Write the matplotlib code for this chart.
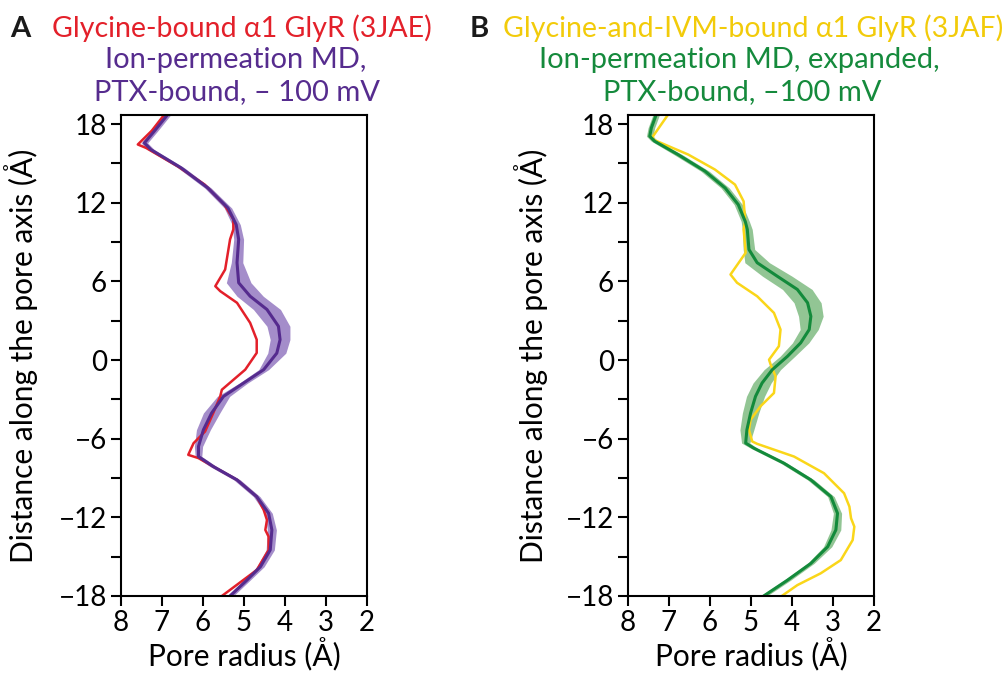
import numpy as np
import matplotlib
matplotlib.use("Agg")
import matplotlib.pyplot as plt
from matplotlib.ticker import MultipleLocator

plt.rcParams['font.family'] = ['Lato', 'DejaVu Sans']

# --- panel A: glycine-bound 3JAE (red) and MD mean +/- sd (purple) ---
a_md_y = [18.74, 17.46, 16.57, 16.06, 14.66, 13.13, 11.60, 10.33, 9.21, 7.43, 5.90, 4.87,
          3.86, 2.58, 1.56, 0.53, -0.73, -1.75, -2.77, -4.04, -5.32, -6.59, -7.36, -8.12,
          -9.14, -10.42, -11.69, -12.96, -14.49, -15.77, -16.79, -18.0]
a_md_r = [6.86, 7.19, 7.43, 7.27, 6.53, 5.88, 5.39, 5.19, 5.13, 5.17, 5.13, 4.85,
          4.44, 4.16, 4.12, 4.20, 4.52, 5.01, 5.50, 5.79, 5.99, 6.11, 6.11, 5.75,
          5.17, 4.69, 4.40, 4.32, 4.36, 4.60, 4.93, 5.34]
a_md_sd = [0.08, 0.08, 0.08, 0.08, 0.08, 0.08, 0.09, 0.10, 0.12, 0.14, 0.30, 0.32,
           0.33, 0.28, 0.24, 0.22, 0.12, 0.10, 0.15, 0.20, 0.17, 0.10, 0.08, 0.08,
           0.08, 0.08, 0.09, 0.11, 0.10, 0.09, 0.08, 0.08]

a_xtal_y = [18.74, 17.5, 16.45, 16.19, 14.79, 13.39, 11.86, 10.74, 9.97, 9.21, 8.44, 6.91,
            5.64, 5.26, 4.37, 2.84, 1.56, 0.55, -0.73, -2.26, -2.77, -4.04, -5.45, -6.34,
            -7.23, -7.48, -8.12, -9.14, -10.42, -11.43, -12.2, -12.96, -13.47, -14.49,
            -16.02, -18.0]
a_xtal_r = [6.94, 7.25, 7.59, 7.39, 6.62, 5.96, 5.48, 5.26, 5.26, 5.34, 5.38, 5.46,
            5.70, 5.58, 5.17, 4.85, 4.69, 4.69, 4.97, 5.54, 5.58, 5.75, 5.95, 6.23,
            6.36, 6.11, 5.75, 5.17, 4.69, 4.52, 4.44, 4.48, 4.40, 4.40,
            4.69, 5.54]

# --- panel B: glycine+IVM-bound 3JAF (yellow) and expanded MD (green) ---
b_md_y = [18.74, 17.72, 17.08, 16.70, 15.68, 14.41, 13.13, 11.86, 10.58, 9.97, 8.44, 7.43,
          6.40, 5.39, 4.37, 3.34, 2.33, 1.31, 0.29, -0.73, -1.75, -2.77, -4.04, -5.32,
          -6.33, -6.72, -7.86, -9.14, -10.42, -11.69, -12.96, -14.24, -15.51, -16.79, -18.0]
b_md_r = [7.31, 7.43, 7.47, 7.35, 6.78, 6.12, 5.63, 5.31, 5.14, 5.09, 5.05, 4.85,
          4.36, 3.87, 3.62, 3.54, 3.58, 3.79, 4.11, 4.48, 4.73, 4.89, 5.01, 5.10,
          5.13, 4.93, 4.20, 3.54, 3.05, 2.89, 2.93, 3.13, 3.54, 4.11, 4.69]
b_md_sd = [0.08, 0.08, 0.08, 0.08, 0.10, 0.10, 0.10, 0.10, 0.10, 0.12, 0.14, 0.30,
           0.36, 0.36, 0.33, 0.30, 0.22, 0.20, 0.18, 0.20, 0.22, 0.22, 0.20, 0.17,
           0.10, 0.08, 0.08, 0.08, 0.08, 0.10, 0.12, 0.10, 0.08, 0.08, 0.08]

b_xtal_y = [18.74, 17.08, 16.83, 15.68, 14.54, 13.39, 12.11, 10.58, 9.97, 8.19, 6.53, 5.9,
            4.87, 3.6, 2.33, 1.06, 0.03, -0.35, -1.24, -2.51, -3.53, -4.55, -5.32, -6.21,
            -6.39, -7.36, -8.63, -10.16, -11.18, -12.07, -12.71, -13.73, -15.26, -16.27,
            -17.17, -18.0]
b_xtal_r = [7.02, 7.39, 7.39, 6.53, 5.88, 5.39, 5.18, 5.14, 5.18, 5.13, 5.50, 5.34,
            4.85, 4.44, 4.28, 4.32, 4.56, 4.52, 4.40, 4.44, 4.77, 5.01, 5.05, 4.97,
            4.85, 3.95, 3.22, 2.73, 2.60, 2.56, 2.48, 2.52, 2.81, 3.30,
            3.87, 4.25]

x_ticks = [8, 7, 6, 5, 4, 3, 2]
y_ticks = [18, 12, 6, 0, -6, -12, -18]

fig = plt.figure(figsize=(10.08, 6.77), dpi=100)
W, H = 1008, 677


def make_ax(left_px, ylab_x):
    ax = fig.add_axes([left_px / W, (H - 596) / H, 246 / W, 481 / H])
    ax.set_xlim(8, 2)
    ax.set_ylim(-18, 18.7)
    ax.set_xticks(x_ticks)
    ax.set_yticks(y_ticks)
    ax.yaxis.set_minor_locator(MultipleLocator(3))
    ax.tick_params(which='both', direction='out', width=1.5, length=7,
                   labelsize=20, pad=3)
    for s in ax.spines.values():
        s.set_linewidth(1.5)
    ax.set_xlabel("Pore radius (Å)", fontsize=21.5, labelpad=1)
    ax.set_ylabel("Distance along the pore axis (Å)", fontsize=21.5)
    ax.yaxis.set_label_coords((ylab_x - left_px) / 246, 0.5)
    return ax


# panel A
ax1 = make_ax(121, 38)
lo = np.array(a_md_r) - np.array(a_md_sd)
hi = np.array(a_md_r) + np.array(a_md_sd)
ax1.fill_betweenx(a_md_y, lo, hi, color='#a48dca', lw=0)
ax1.plot(a_xtal_r, a_xtal_y, color='#e3202a', lw=1.8)
ax1.plot(a_md_r, a_md_y, color='#552b8e', lw=2.2)

# panel B
ax2 = make_ax(628, 548)
lo = np.array(b_md_r) - np.array(b_md_sd)
hi = np.array(b_md_r) + np.array(b_md_sd)
ax2.fill_betweenx(b_md_y, lo, hi, color='#92c594', lw=0)
ax2.plot(b_xtal_r, b_xtal_y, color='#fad619', lw=1.8)
ax2.plot(b_md_r, b_md_y, color='#138a3b', lw=2.2)


def ftext(x, y, s, **kw):
    fig.text(x / W, 1 - y / H, s, va='baseline', **kw)


# titles
ftext(10, 37, "A", fontsize=21, fontweight='bold', color='#1a1a1a')
ftext(52, 37, "Glycine-bound α1 GlyR (3JAE)", fontsize=20.5, color='#e3202a')
ftext(236, 68, "Ion-permeation MD,", fontsize=21, color='#562c8e', ha='center')
ftext(237, 100, "PTX-bound, – 100 mV", fontsize=21, color='#562c8e', ha='center')

ftext(470, 37, "B", fontsize=21, fontweight='bold', color='#1a1a1a')
ftext(503, 37, "Glycine-and-IVM-bound α1 GlyR (3JAF)", fontsize=20.5, color='#f2cb0a')
ftext(739, 68, "Ion-permeation MD, expanded,", fontsize=21, color='#158a3c', ha='center')
ftext(742, 100, "PTX-bound, –100 mV", fontsize=21, color='#158a3c', ha='center')

fig.savefig("out.png", dpi=100)
